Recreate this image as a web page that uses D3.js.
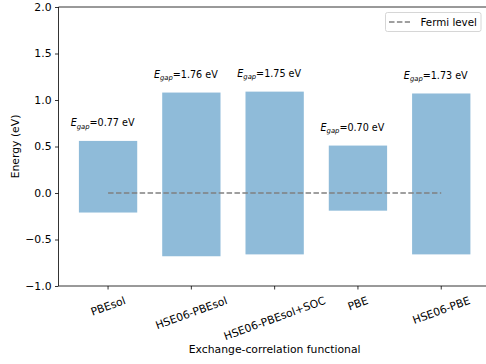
<!DOCTYPE html>
<html>
<head>
<meta charset="utf-8">
<script src="https://cdn.jsdelivr.net/npm/d3@7"></script>
<style>
  body { margin: 0; background: #fff; }
  text { font-family: "DejaVu Sans", sans-serif; fill: #000; }
</style>
</head>
<body>
<div id="chart"></div>
<script>
// Band edges per exchange-correlation functional
const functionals = ["PBEsol", "HSE06-PBEsol", "HSE06-PBEsol+SOC", "PBE", "HSE06-PBE"];
const cbm = [0.56, 1.08, 1.09, 0.51, 1.07];     // top of bar (eV)
const vbm = [-0.21, -0.68, -0.66, -0.19, -0.66]; // bottom of bar (eV)
const gaps = ["0.77", "1.76", "1.75", "0.70", "1.73"];
const yTicks = [-1.0, -0.5, 0.0, 0.5, 1.0, 1.5, 2.0];

const W = 486, H = 364;
const plot = { left: 58.5, right: 490.8, top: 7, bottom: 286 };
const fs = 10.8;

const svg = d3.select("#chart").append("svg")
  .attr("width", W).attr("height", H);

const x = d3.scaleBand()
  .domain(functionals)
  .range([plot.left, plot.right])
  .paddingInner(0.3)
  .paddingOuter(0.245);

const y = d3.scaleLinear().domain([-1, 2]).range([plot.bottom, plot.top]);

// bars
svg.append("g").selectAll("rect")
  .data(functionals)
  .join("rect")
  .attr("x", d => x(d))
  .attr("width", x.bandwidth())
  .attr("y", (d, i) => y(cbm[i]))
  .attr("height", (d, i) => y(vbm[i]) - y(cbm[i]))
  .attr("fill", "#1f77b4")
  .attr("fill-opacity", 0.5);

// Fermi level
const cx = d => x(d) + x.bandwidth() / 2;
svg.append("line")
  .attr("x1", cx(functionals[0]))
  .attr("x2", cx(functionals[functionals.length - 1]))
  .attr("y1", y(0)).attr("y2", y(0))
  .attr("stroke", "#808080")
  .attr("stroke-width", 1.5)
  .attr("stroke-dasharray", "5.5,2.4");

// gap annotations
const ann = svg.append("g").selectAll("text")
  .data(functionals)
  .join("text")
  .attr("x", d => cx(d) - 0.066 * x.step())
  .attr("y", (d, i) => y(cbm[i]) - 14.5)
  .attr("text-anchor", "middle")
  .style("font-size", "9.6px");
ann.append("tspan").attr("font-style", "italic").text("E");
ann.append("tspan").attr("font-style", "italic").attr("dy", 2.2)
  .style("font-size", "6.8px").text("gap");
ann.append("tspan").attr("dy", -2.2).text((d, i) => "=" + gaps[i] + " eV");

// spines
const spine = svg.append("g").attr("stroke", "#000").attr("stroke-width", 0.8);
spine.append("line").attr("x1", plot.left).attr("x2", plot.left)
  .attr("y1", plot.top).attr("y2", plot.bottom);
spine.append("line").attr("x1", plot.left).attr("x2", plot.right)
  .attr("y1", plot.bottom).attr("y2", plot.bottom);
spine.append("line").attr("x1", plot.left).attr("x2", plot.right)
  .attr("y1", plot.top).attr("y2", plot.top);

// y axis
const yAxis = svg.append("g")
  .attr("transform", `translate(${plot.left},0)`)
  .call(d3.axisLeft(y).tickValues(yTicks).tickFormat(d3.format(".1f"))
    .tickSize(3.5).tickPadding(3.5));
yAxis.select(".domain").remove();
yAxis.selectAll("line").attr("stroke-width", 0.8);
yAxis.selectAll("text").style("font-size", fs + "px").attr("font-family", null);

// x axis
const xAxis = svg.append("g")
  .attr("transform", `translate(0,${plot.bottom})`)
  .call(d3.axisBottom(x).tickSize(3.5));
xAxis.select(".domain").remove();
xAxis.selectAll("line").attr("stroke-width", 0.8);
xAxis.selectAll("text")
  .style("font-size", fs + "px")
  .attr("font-family", null)
  .attr("y", null).attr("dy", null)
  .each(function () {
    const t = d3.select(this);
    const w = this.getComputedTextLength();
    const h = fs * 1.16;
    const a = 20 * Math.PI / 180;
    const half = (w / 2) * Math.sin(a) + (h / 2) * Math.cos(a);
    t.attr("text-anchor", "middle")
      .attr("dy", "0.35em")
      .attr("transform", `translate(0,${8 + half}) rotate(-20)`);
  });

// axis labels
svg.append("text")
  .attr("transform", `translate(19,${(plot.top + plot.bottom) / 2}) rotate(-90)`)
  .attr("text-anchor", "middle")
  .style("font-size", fs + "px")
  .text("Energy (eV)");

svg.append("text")
  .attr("x", (plot.left + plot.right) / 2)
  .attr("y", 353)
  .attr("text-anchor", "middle")
  .style("font-size", fs + "px")
  .text("Exchange-correlation functional");

// legend
const lg = svg.append("g");
lg.append("rect")
  .attr("x", 385.5).attr("y", 12.5)
  .attr("width", 95.5).attr("height", 19)
  .attr("rx", 2)
  .attr("fill", "#fff").attr("fill-opacity", 0.8)
  .attr("stroke", "#cccccc").attr("stroke-width", 0.8);
lg.append("line")
  .attr("x1", 389).attr("x2", 410)
  .attr("y1", 22).attr("y2", 22)
  .attr("stroke", "#808080").attr("stroke-width", 1.5)
  .attr("stroke-dasharray", "5.5,2.4");
lg.append("text")
  .attr("x", 420.5).attr("y", 25.8)
  .style("font-size", "10.3px")
  .text("Fermi level");
</script>
</body>
</html>
